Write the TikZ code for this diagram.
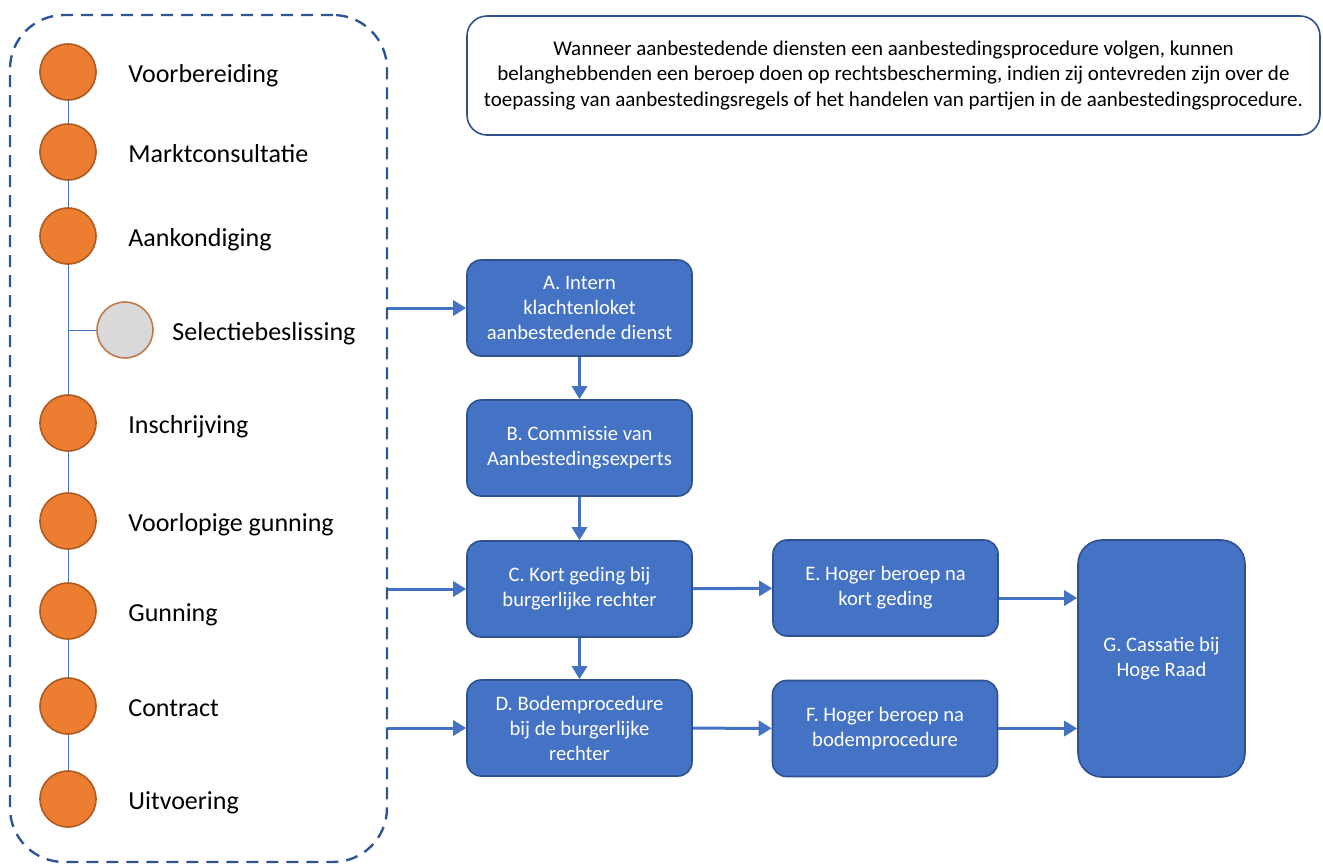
\documentclass[tikz,border=0pt]{standalone}
\usepackage{fontspec}
\setmainfont{Carlito}
\usetikzlibrary{arrows.meta,positioning}
\definecolor{blauw}{HTML}{4472C4}
\definecolor{donkerblauw}{HTML}{2F528F}
\definecolor{streepblauw}{HTML}{2F5597}
\definecolor{oranje}{HTML}{ED7D31}
\definecolor{oranjerand}{HTML}{AE5A21}
\definecolor{grijs}{HTML}{D9D9D9}

\begin{document}
\begin{tikzpicture}[x=0.5pt, y=-0.5pt,
    fase/.style={circle, draw=oranjerand, fill=oranje, line width=0.8pt, minimum size=28pt, inner sep=0pt},
    faselabel/.style={anchor=base west, inner sep=0pt, font=\fontsize{13}{15}\selectfont},
    stap/.style={rectangle, rounded corners=7pt, draw=donkerblauw, fill=blauw, line width=0.8pt,
        text=white, align=center, inner sep=2pt, font=\fontsize{10.3}{12.5}\selectfont,
        minimum width=112.5pt, minimum height=48pt},
    pijl/.style={blauw, line width=1.5pt, -{Triangle[length=6.5pt, width=7.5pt]}}
]
    \useasboundingbox (0,0) rectangle (1323,863);

    % KADER MET DE FASEN
    \node[draw=streepblauw, line width=1.2pt, dash pattern=on 6pt off 4pt, rounded corners=27pt,
        minimum width=188.5pt, minimum height=423.5pt, inner sep=0pt] (fasen) at (198.5,438.5) {};

    % FASEN VAN DE AANBESTEDING
    \foreach \n/\y/\t in {1/72/Voorbereiding, 2/152/Marktconsultatie, 3/236/Aankondiging,
        4/423/Inschrijving, 5/521/Voorlopige gunning, 6/611/Gunning, 7/706/Contract, 8/799/Uitvoering} {
        \node[fase] (f\n) at (68,\y) {};
        \node[faselabel] (l\n) at (128,{\y+10}) {\t};
    }
    \node[fase, fill=grijs, draw=oranjerand!80] (sel) at (125,330) {};
    \node[faselabel] (lsel) at (172,340) {Selectiebeslissing};

    % TIJDLIJN
    \draw[blauw, line width=0.5pt] (f1) -- (f2) -- (f3) -- (f4) -- (f5) -- (f6) -- (f7) -- (f8);
    \coordinate (tak) at (f3 |- sel);
    \draw[blauw, line width=0.5pt] (tak) -- (sel);

    % TOELICHTING
    \node[draw=donkerblauw, line width=0.8pt, rounded corners=10pt, minimum width=426.5pt,
        minimum height=59.5pt, align=center, font=\fontsize{10.5}{12.75}\selectfont] (uitleg) at (893.5,75.5)
        {Wanneer aanbestedende diensten een aanbestedingsprocedure volgen, kunnen\\
         belanghebbenden een beroep doen op rechtsbescherming, indien zij ontevreden zijn over de\\
         toepassing van aanbestedingsregels of het handelen van partijen in de aanbestedingsprocedure.};

    % RECHTSBESCHERMING
    \node[stap] (A) at (579.5,308) {A. Intern\\klachtenloket\\aanbestedende dienst};
    \node[stap] (B) at (579.5,448) {B. Commissie van\\Aanbestedingsexperts};
    \node[stap] (C) at (579.5,589) {C. Kort geding bij\\burgerlijke rechter};
    \node[stap] (D) at (579.5,728) {D. Bodemprocedure\\bij de burgerlijke\\rechter};
    \node[stap] (E) at (885.5,588) {E. Hoger beroep na\\kort geding};
    \node[stap] (F) at (885,728.5) {F. Hoger beroep na\\bodemprocedure};
    \node[stap, minimum width=83.5pt, minimum height=118.5pt, rounded corners=12pt] (G) at (1161.5,658.5)
        {G. Cassatie bij\\Hoge Raad};

    % PIJLEN
    \draw[pijl] (fasen.east |- A) -- (A);
    \draw[pijl] (fasen.east |- C) -- (C);
    \draw[pijl] (fasen.east |- D) -- (D);
    \draw[pijl] (A) -- (B);
    \draw[pijl] (B) -- (C);
    \draw[pijl] (C) -- (D);
    \draw[pijl] (C) -- (E);
    \draw[pijl] (D) -- (F);
    \coordinate (eg) at ([yshift=-5pt]E.east);
    \draw[pijl] (eg) -- (eg -| G.west);
    \draw[pijl] (F.east) -- (F.east -| G.west);

\end{tikzpicture}
\end{document}
